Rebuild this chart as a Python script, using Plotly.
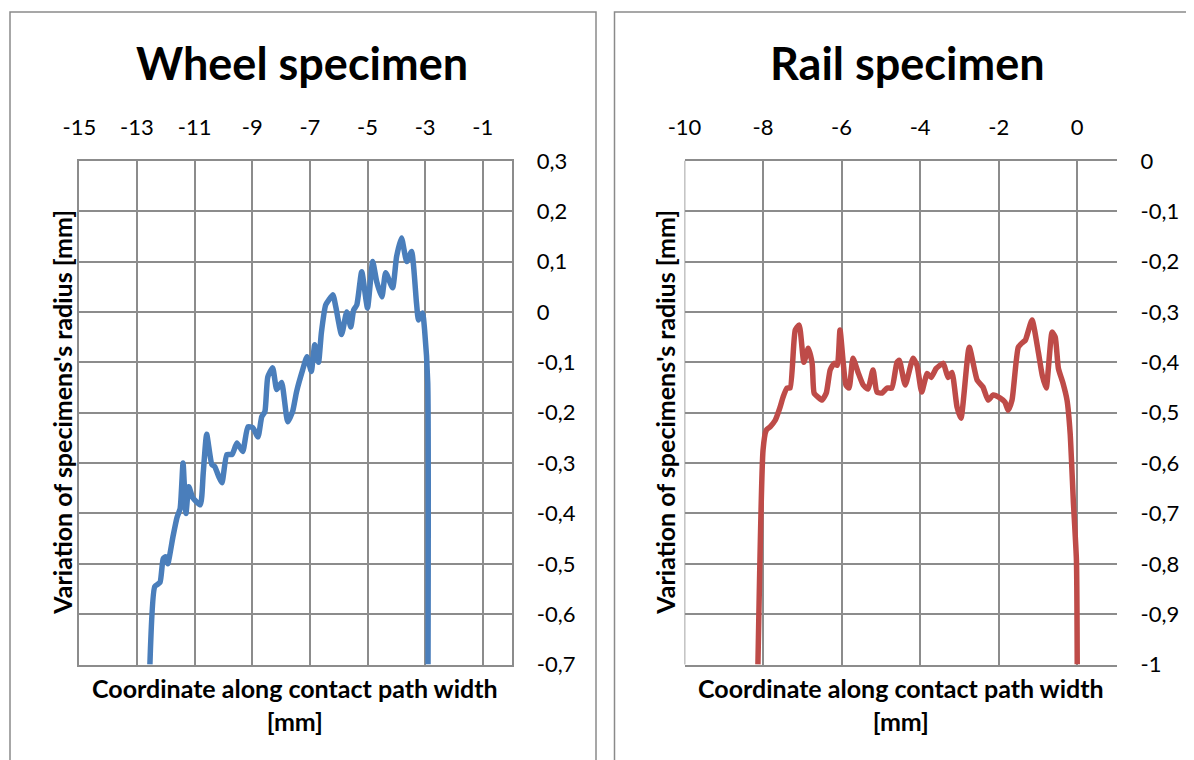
import plotly.graph_objects as go

# ---------------- data ----------------
wheel_x = [-12.55, -12.38, -12.2, -12.09, -12.0, -11.93, -11.75, -11.61, -11.5, -11.4,
           -11.3, -11.2, -11.06, -10.8, -10.7, -10.58, -10.4, -10.3, -10.16, -10.05,
           -9.88, -9.7, -9.53, -9.33, -9.15, -8.98, -8.8, -8.67, -8.56, -8.46,
           -8.29, -8.15, -7.98, -7.77, -7.6, -7.46, -7.25, -7.1, -6.95, -6.83,
           -6.7, -6.6, -6.45, -6.34, -6.2, -6.1, -5.9, -5.72, -5.58, -5.48,
           -5.37, -5.2, -5.0, -4.82, -4.68, -4.5, -4.37, -4.13, -3.99, -3.82,
           -3.64, -3.47, -3.3, -3.23, -3.09, -3.02, -2.91, -2.9]
wheel_y = [-0.7, -0.545, -0.537, -0.49, -0.486, -0.5, -0.446, -0.408, -0.39, -0.30,
           -0.40, -0.347, -0.369, -0.383, -0.32, -0.243, -0.303, -0.307, -0.327, -0.339,
           -0.283, -0.283, -0.26, -0.277, -0.228, -0.23, -0.248, -0.208, -0.198, -0.129,
           -0.111, -0.154, -0.14, -0.218, -0.198, -0.158, -0.115, -0.089, -0.118, -0.065,
           -0.10, -0.041, 0.014, 0.024, 0.034, 0.01, -0.045, 0.0, -0.03, 0.004,
           0.014, 0.08, 0.008, 0.10, 0.06, 0.03, 0.078, 0.048, 0.11, 0.147,
           0.1, 0.12, 0.018, -0.016, -0.002, -0.035, -0.14, -0.7]

rail_x = [-8.13, -8.0, -7.92, -7.82, -7.69, -7.57, -7.49, -7.39, -7.31, -7.18,
          -7.08, -6.96, -6.85, -6.75, -6.7, -6.6, -6.5, -6.39, -6.29, -6.19,
          -6.11, -6.04, -5.89, -5.81, -5.71, -5.58, -5.45, -5.33, -5.2, -5.1,
          -4.97, -4.84, -4.72, -4.59, -4.53, -4.38, -4.18, -4.08, -3.96, -3.82,
          -3.72, -3.59, -3.41, -3.29, -3.19, -3.06, -2.96, -2.75, -2.55, -2.4,
          -2.27, -2.14, -1.96, -1.84, -1.76, -1.66, -1.5, -1.38, -1.32, -1.15,
          -0.99, -0.89, -0.79, -0.64, -0.56, -0.48, -0.36, -0.26, -0.18, -0.1,
          -0.02, 0.0]
rail_y = [-1.0, -0.574, -0.535, -0.528, -0.515, -0.49, -0.469, -0.451, -0.451, -0.336,
          -0.326, -0.40, -0.372, -0.402, -0.461, -0.469, -0.475, -0.461, -0.415, -0.402,
          -0.406, -0.336, -0.445, -0.451, -0.392, -0.42, -0.445, -0.453, -0.415, -0.459,
          -0.461, -0.451, -0.451, -0.40, -0.396, -0.445, -0.392, -0.406, -0.459, -0.422,
          -0.43, -0.412, -0.402, -0.43, -0.42, -0.489, -0.511, -0.37, -0.435, -0.449,
          -0.475, -0.465, -0.471, -0.479, -0.495, -0.475, -0.37, -0.36, -0.356, -0.316,
          -0.38, -0.426, -0.451, -0.34, -0.35, -0.412, -0.442, -0.475, -0.541, -0.674,
          -0.793, -1.0]

wheel_xticks = [-15, -13, -11, -9, -7, -5, -3, -1]
wheel_xlabels = ["-15", "-13", "-11", "-9", "-7", "-5", "-3", "-1"]
wheel_yticks = [0.3, 0.2, 0.1, 0.0, -0.1, -0.2, -0.3, -0.4, -0.5, -0.6, -0.7]
wheel_ylabels = ["0,3", "0,2", "0,1", "0", "-0,1", "-0,2", "-0,3", "-0,4", "-0,5", "-0,6", "-0,7"]

rail_xticks = [-10, -8, -6, -4, -2, 0]
rail_xlabels = ["-10", "-8", "-6", "-4", "-2", "0"]
rail_yticks = [0.0, -0.1, -0.2, -0.3, -0.4, -0.5, -0.6, -0.7, -0.8, -0.9, -1.0]
rail_ylabels = ["0", "-0,1", "-0,2", "-0,3", "-0,4", "-0,5", "-0,6", "-0,7", "-0,8", "-0,9", "-1"]

titles = ["Wheel specimen", "Rail specimen"]
x_title = "Coordinate along contact path width<br>[mm]"
y_title = "Variation of specimens's radius [mm]"

# ---------------- layout helpers ----------------
W, H = 1194, 760
OFF = 8  # page body margin in the browser
def px(x):
    return (x - OFF) / W
def py(y):
    return 1 - (y - OFF) / H

FONT = "Lato, Carlito, Calibri, sans-serif"
GRID = "#8c8c8c"
TOP, BOT = 160.8, 664.6

fig = go.Figure()
fig.add_trace(go.Scatter(x=wheel_x, y=wheel_y, mode="lines",
                         line=dict(color="#4A7EBB", width=5.5, shape="spline", smoothing=0.5),
                         xaxis="x", yaxis="y", showlegend=False))
fig.add_trace(go.Scatter(x=rail_x, y=rail_y, mode="lines",
                         line=dict(color="#BE4B48", width=5.5, shape="spline", smoothing=0.5),
                         xaxis="x2", yaxis="y2", showlegend=False))

tickfont = dict(family=FONT, size=22, color="black")

common_x = dict(side="top", showgrid=True, gridcolor=GRID, gridwidth=1.6,
                zeroline=False, ticks="", tickfont=tickfont, ticklabelstandoff=15,
                showline=True, linecolor=GRID, linewidth=1.6, mirror=True,
                automargin=False, fixedrange=True)
common_y = dict(side="right", showgrid=True, gridcolor=GRID, gridwidth=1.6,
                zeroline=False, ticks="", tickfont=tickfont,
                automargin=False, fixedrange=True)

fig.update_layout(
    width=W, height=H,
    margin=dict(l=0, r=0, t=0, b=0, pad=0, autoexpand=False),
    paper_bgcolor="white", plot_bgcolor="white",
    font=dict(family=FONT, color="black"),
    xaxis=dict(domain=[px(79.3), px(511.6)], range=[-15, 0], anchor="y",
               tickvals=wheel_xticks, ticktext=wheel_xlabels, **common_x),
    yaxis=dict(domain=[py(BOT), py(TOP)], range=[-0.7, 0.3], anchor="x",
               tickvals=wheel_yticks, ticktext=wheel_ylabels, ticklabelstandoff=19,
               showline=True, linecolor=GRID, linewidth=1.6, mirror=True, **common_y),
    xaxis2=dict(domain=[px(684.5), px(1116.5)], range=[-10, 1], anchor="y2",
                tickvals=rail_xticks, ticktext=rail_xlabels, **common_x),
    yaxis2=dict(domain=[py(BOT), py(TOP)], range=[-1, 0], anchor="x2",
                tickvals=rail_yticks, ticktext=rail_ylabels, ticklabelstandoff=23,
                showline=False, **common_y),
)

# chart frames
frame = dict(color="#8a8a8a", width=1.5)
fig.add_shape(type="rect", xref="paper", yref="paper",
              x0=px(10), x1=px(596), y0=py(800), y1=py(12), line=frame,
              fillcolor="rgba(0,0,0,0)", layer="below")
fig.add_shape(type="rect", xref="paper", yref="paper",
              x0=px(614.5), x1=px(1240), y0=py(800), y1=py(12), line=frame,
              fillcolor="rgba(0,0,0,0)", layer="below")
# rail left edge (gridline at x=-10)
fig.add_shape(type="line", xref="x2", yref="paper", x0=-10, x1=-10,
              y0=py(BOT), y1=py(TOP), line=dict(color=GRID, width=1.6), layer="below")

centers = [(79.3 + 511.6) / 2, (684.5 + 1116.5) / 2]
title_x = [302, 907]
ytitle_x = [62, 665]
for i in range(2):
    fig.add_annotation(text="<b>%s</b>" % titles[i], xref="paper", yref="paper",
                       x=px(title_x[i]), y=py(63), showarrow=False,
                       xanchor="center", yanchor="middle",
                       font=dict(family=FONT, size=45, color="black"))
    fig.add_annotation(text="<b>%s</b>" % x_title, xref="paper", yref="paper",
                       x=px(centers[i]), y=py(704), showarrow=False,
                       xanchor="center", yanchor="middle",
                       font=dict(family=FONT, size=25, color="black"))
    fig.add_annotation(text="<b>%s</b>" % y_title, xref="paper", yref="paper",
                       x=px(ytitle_x[i]), y=py((TOP + BOT) / 2), showarrow=False,
                       textangle=-90, xanchor="center", yanchor="middle",
                       font=dict(family=FONT, size=25, color="black"))

fig.write_html("out.html")
